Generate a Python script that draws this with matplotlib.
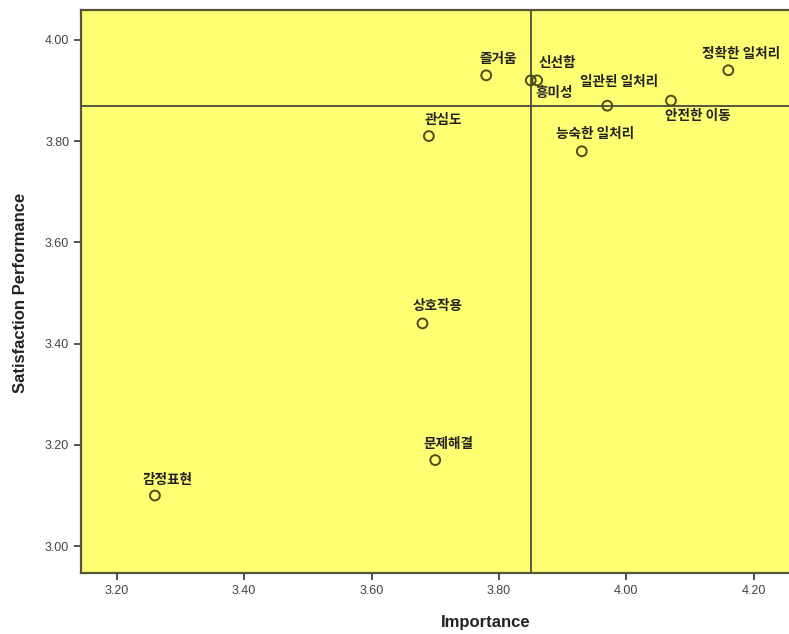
import matplotlib
matplotlib.use("Agg")
import matplotlib.pyplot as plt

labels = ["즐거움", "신선함", "흥미성", "일관된 일처리", "안전한 이동", "정확한 일처리",
          "관심도", "능숙한 일처리", "상호작용", "문제해결", "감정표현"]
importance = [3.78, 3.86, 3.85, 3.97, 4.07, 4.16, 3.69, 3.93, 3.68, 3.70, 3.26]
satisfaction = [3.93, 3.92, 3.92, 3.87, 3.88, 3.94, 3.81, 3.78, 3.44, 3.17, 3.10]
mean_importance = 3.85
mean_satisfaction = 3.87
xticks = [3.20, 3.40, 3.60, 3.80, 4.00, 4.20]
yticks = [3.00, 3.20, 3.40, 3.60, 3.80, 4.00]

# label offsets in pixels (left edge x, vertical center y) relative to the point
label_offsets = [(-7, 16), (1, 17), (5, -13), (-27, 24), (-6, -15), (-26, 16),
                 (-4, 16), (-26, 17), (-10, 17), (-12, 16), (-12, 16)]

fig = plt.figure(figsize=(7.89, 6.34), dpi=100)
fig.patch.set_facecolor("white")
W, H = 789, 634
left, right, top, bottom = 81, 850, 10, 573
ax = fig.add_axes([left / W, 1 - bottom / H, (right - left) / W, (bottom - top) / H])
ax.set_facecolor("#FFFF73")

ax.set_xlim(3.144, 4.351)
ax.set_ylim(2.947, 4.059)

ax.axvline(mean_importance, color="#4a4a3a", lw=1.3, zorder=1)
ax.axhline(mean_satisfaction, color="#4a4a3a", lw=1.3, zorder=1)

ax.scatter(importance, satisfaction, s=50, facecolors="none",
           edgecolors="#4d4d1a", linewidths=1.4, zorder=3)

for name, x, y, (dx, dy) in zip(labels, importance, satisfaction, label_offsets):
    ax.annotate(name, (x, y), xytext=(dx, dy), textcoords="offset pixels",
                ha="left", va="center", fontsize=9.8, fontweight="bold",
                family=["Noto Sans CJK KR", "DejaVu Sans"], color="#222222",
                annotation_clip=False)

ax.set_xticks(xticks)
ax.set_xticklabels([f"{v:.2f}" for v in xticks])
ax.set_yticks(yticks)
ax.set_yticklabels([f"{v:.2f}" for v in yticks])
ax.tick_params(axis="both", labelsize=9, colors="#333333", length=5, width=1.2,
               labelcolor="#444444")
for lab in ax.get_xticklabels() + ax.get_yticklabels():
    lab.set_family(["Liberation Sans Narrow", "Liberation Sans", "DejaVu Sans"])

for s in ["left", "bottom", "top"]:
    ax.spines[s].set_color("#55553a")
    ax.spines[s].set_linewidth(1.6)
ax.spines["right"].set_visible(False)

ax.set_xlabel("Importance", fontsize=12, fontweight="bold", color="#222222",
              family=["Liberation Sans", "DejaVu Sans"])
ax.xaxis.set_label_coords((486 - left) / (right - left), -(615 - bottom) / (bottom - top))
ax.set_ylabel("Satisfaction Performance", fontsize=12, fontweight="bold", color="#222222",
              family=["Liberation Sans", "DejaVu Sans"])
ax.yaxis.set_label_coords(-(81 - 28) / (right - left), (bottom - 293) / (bottom - top))

fig.savefig("out.png", dpi=100, facecolor="white")
